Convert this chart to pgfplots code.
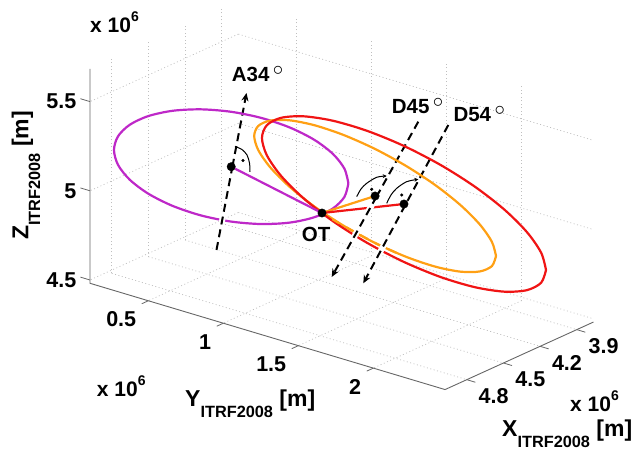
\documentclass[border=0pt]{standalone}
\usepackage{fontspec}
\setmainfont{Liberation Sans}
\usepackage{pgfplots}
\pgfplotsset{compat=1.18}
\usetikzlibrary{arrows.meta}
\definecolor{cmag}{RGB}{190,40,200}
\definecolor{corg}{RGB}{255,160,20}
\definecolor{cred}{RGB}{240,20,20}
\begin{document}
\begin{tikzpicture}
\begin{axis}[
  disabledatascaling,
  x={(-122.2pt,-55.6pt)}, y={(150pt,-44.9pt)}, z={(0pt,178.4pt)},
  xmin=3.764, xmax=4.978, ymin=0.111, ymax=2.478, zmin=4.4815, zmax=5.683,
  xtick={3.9,4.2,4.5,4.8}, xticklabels={3.9,4.2,4.5,4.8},
  ytick={0.5,1,1.5,2}, yticklabels={0.5,1,1.5,2},
  ztick={4.5,5,5.5}, zticklabels={4.5,5,5.5},
  grid=major,
  major grid style={gray!50, line width=0.7pt, dash pattern=on 1pt off 2.5pt},
  axis line style={draw=none},
  tick style={draw=none},
  ticklabel style={font=\bfseries\fontsize{21.5}{25}\selectfont, inner sep=0pt},
  xticklabel style={anchor=north west, xshift=11.7pt, yshift=-8.5pt},
  yticklabel style={anchor=north east, xshift=-12pt, yshift=-11pt},
  zticklabel style={anchor=east, xshift=-13.5pt},
  clip=false,
]
\coordinate (C) at (axis cs:4.978,0.111,4.4815);
\draw[black!60, line width=0.9pt] (axis cs:4.978,0.111,5.683) -- (axis cs:4.978,0.111,4.4815) -- (axis cs:4.978,2.478,4.4815) -- (axis cs:3.764,2.478,4.4815);
\draw[black!60, line width=0.8pt]
  (axis cs:4.978,0.111,4.5) -- (axis cs:4.978,0.047,4.5)
  (axis cs:4.978,0.111,5) -- (axis cs:4.978,0.047,5)
  (axis cs:4.978,0.111,5.5) -- (axis cs:4.978,0.047,5.5)
  (axis cs:4.978,0.5,4.4815) -- (axis cs:5.032,0.5,4.4815)
  (axis cs:4.978,1,4.4815) -- (axis cs:5.032,1,4.4815)
  (axis cs:4.978,1.5,4.4815) -- (axis cs:5.032,1.5,4.4815)
  (axis cs:4.978,2,4.4815) -- (axis cs:5.032,2,4.4815)
  (axis cs:3.9,2.478,4.4815) -- (axis cs:3.9,2.535,4.4815)
  (axis cs:4.2,2.478,4.4815) -- (axis cs:4.2,2.535,4.4815)
  (axis cs:4.5,2.478,4.4815) -- (axis cs:4.5,2.535,4.4815)
  (axis cs:4.8,2.478,4.4815) -- (axis cs:4.8,2.535,4.4815);
% upper (hidden) parts of the normals
\addplot3[black, line width=2pt, dash pattern=on 8pt off 5pt, -{Stealth[length=8pt,width=7pt]}] coordinates {(4.978,1.0603,5.3740) (4.978,1.1543,5.8108)};
\addplot3[black, line width=2pt, dash pattern=on 8pt off 5pt] coordinates {(4.978,2.2997,5.9382) (4.978,2.0210,5.4477)};
\addplot3[black, line width=2pt, dash pattern=on 8pt off 5pt] coordinates {(4.978,2.4997,5.9700) (4.978,2.2130,5.4494)};
% circles
\addplot3[cmag, line width=2.2pt, smooth] table {
4.978 1.8336 5.4750
4.978 1.8070 5.3919
4.978 1.7289 5.3074
4.978 1.6048 5.2273
4.978 1.4430 5.1570
4.978 1.2545 5.1014
4.978 1.0523 5.0643
4.978 0.8501 5.0481
4.978 0.6616 5.0540
4.978 0.4998 5.0815
4.978 0.3757 5.1289
4.978 0.2976 5.1928
4.978 0.2710 5.2690
4.978 0.2976 5.3521
4.978 0.3757 5.4366
4.978 0.4998 5.5167
4.978 0.6616 5.5870
4.978 0.8501 5.6426
4.978 1.0523 5.6797
4.978 1.2545 5.6959
4.978 1.4430 5.6900
4.978 1.6048 5.6625
4.978 1.7289 5.6151
4.978 1.8070 5.5512
4.978 1.8336 5.4750
};
\addplot3[corg, line width=2.2pt, smooth] table {
4.978 2.8177 5.3157
4.978 2.7902 5.2521
4.978 2.7097 5.2019
4.978 2.5816 5.1685
4.978 2.4147 5.1543
4.978 2.2203 5.1602
4.978 2.0117 5.1858
4.978 1.8031 5.2293
4.978 1.6087 5.2878
4.978 1.4418 5.3573
4.978 1.3137 5.4331
4.978 1.2332 5.5099
4.978 1.2057 5.5827
4.978 1.2332 5.6463
4.978 1.3137 5.6965
4.978 1.4418 5.7299
4.978 1.6087 5.7441
4.978 1.8031 5.7382
4.978 2.0117 5.7127
4.978 2.2203 5.6691
4.978 2.4147 5.6106
4.978 2.5816 5.5411
4.978 2.7097 5.4653
4.978 2.7902 5.3885
4.978 2.8177 5.3157
};
\addplot3[cred, line width=2.2pt, smooth] table {
4.978 3.1510 5.3212
4.978 3.1187 5.2416
4.978 3.0241 5.1763
4.978 2.8737 5.1299
4.978 2.6776 5.1055
4.978 2.4493 5.1048
4.978 2.2043 5.1278
4.978 1.9593 5.1730
4.978 1.7310 5.2372
4.978 1.5349 5.3161
4.978 1.3845 5.4044
4.978 1.2899 5.4960
4.978 1.2576 5.5846
4.978 1.2899 5.6643
4.978 1.3845 5.7295
4.978 1.5349 5.7759
4.978 1.7310 5.8003
4.978 1.9593 5.8010
4.978 2.2043 5.7780
4.978 2.4493 5.7328
4.978 2.6776 5.6686
4.978 2.8737 5.5897
4.978 3.0241 5.5014
4.978 3.1187 5.4098
4.978 3.1510 5.3212
};
\addplot3[corg, line width=2.2pt, smooth, dash pattern=on 8pt off 8pt] coordinates {(4.978,2.1516,5.1666) (4.978,2.0117,5.1858) (4.978,1.8031,5.2293) (4.978,1.6577,5.2648)};
% radii
\addplot3[cmag, line width=2.2pt] coordinates {(4.978,1.0523,5.3720) (4.978,1.6577,5.2648)};
\addplot3[corg, line width=2.2pt] coordinates {(4.978,2.0117,5.4492) (4.978,1.6577,5.2648)};
\addplot3[cred, line width=2.2pt] coordinates {(4.978,2.2043,5.4529) (4.978,1.6577,5.2648)};
% lower (front) parts of the normals
\addplot3[white, line width=6pt] coordinates {(4.978,0.9543,4.8804) (4.978,1.0603,5.3740)};
\addplot3[black, line width=2pt, dash pattern=on 8pt off 5pt] coordinates {(4.978,0.9543,4.8804) (4.978,1.0603,5.3740)};
\addplot3[white, line width=6pt] coordinates {(4.978,2.0210,5.4477) (4.978,1.7350,4.9450)};
\addplot3[black, line width=2pt, dash pattern=on 8pt off 5pt, -{Stealth[length=8pt,width=7pt]}] coordinates {(4.978,2.0210,5.4477) (4.978,1.7223,4.9224)};
\addplot3[white, line width=6pt] coordinates {(4.978,2.2130,5.4494) (4.978,1.9460,4.9630)};
\addplot3[black, line width=2pt, dash pattern=on 8pt off 5pt, -{Stealth[length=8pt,width=7pt]}] coordinates {(4.978,2.2130,5.4494) (4.978,1.9330,4.9401)};
% right-angle arcs
\addplot3[black, line width=1pt, smooth] coordinates {(4.978,1.0777,5.4916) (4.978,1.1243,5.4865) (4.978,1.1577,5.4641) (4.978,1.1743,5.4235) (4.978,1.1777,5.3739)};
\addplot3[black, line width=1pt, smooth, -{Stealth[length=4pt,width=4pt]}] coordinates {(4.978,1.8890,5.4144) (4.978,1.9177,5.4648) (4.978,1.9557,5.5063) (4.978,2.0223,5.5567) (4.978,2.0890,5.5808)};
\addplot3[black, line width=1pt, smooth, -{Stealth[length=4pt,width=4pt]}] coordinates {(4.978,2.0890,5.4278) (4.978,2.1177,5.4815) (4.978,2.1557,5.5286) (4.978,2.2223,5.5824) (4.978,2.2997,5.6153)};
\addplot3[only marks, mark=*, mark size=1.4pt, black] coordinates {(4.978,1.1310,5.4266) (4.978,1.9890,5.4811) (4.978,2.1890,5.4995)};
% centres and OT
\addplot3[only marks, mark=*, mark size=4.2pt, black] coordinates {(4.978,1.0523,5.3720) (4.978,2.0117,5.4492) (4.978,2.2043,5.4529) (4.978,1.6577,5.2648)};
\end{axis}
\begin{scope}[shift={(C)}, x=1pt, y=-1pt, shift={(-90,-283.3)}]
\tikzset{lab/.style={anchor=base west, inner sep=0pt, font=\bfseries\fontsize{23}{27}\selectfont}}
\node[lab] at (185,406) {Y\raisebox{-11.7pt}{\fontsize{16.3}{19}\selectfont ITRF2008} [m]};
\node[lab] at (502,436) {X\raisebox{-11.7pt}{\fontsize{16.3}{19}\selectfont ITRF2008} [m]};
\node[lab, rotate=90] at (28.5,240) {Z\raisebox{-11.7pt}{\fontsize{16.3}{19}\selectfont ITRF2008} [m]};
\tikzset{sc/.style={anchor=base west, inner sep=0pt, font=\bfseries\fontsize{21}{25}\selectfont}}
\node[sc] at (90,33) {x 10\raisebox{11pt}{\fontsize{14}{16}\selectfont 6}};
\node[sc] at (96.7,396) {x 10\raisebox{11pt}{\fontsize{14}{16}\selectfont 6}};
\node[sc] at (570,411) {x 10\raisebox{11pt}{\fontsize{14}{16}\selectfont 6}};
\tikzset{an/.style={anchor=base west, inner sep=0pt, font=\bfseries\fontsize{20.5}{24}\selectfont}}
\node[an] at (231.7,81.7) {A34\,\raisebox{6pt}{$\circ$}};
\node[an] at (391.7,113.3) {D45\,\raisebox{6pt}{$\circ$}};
\node[an] at (453.3,121.7) {D54\,\raisebox{6pt}{$\circ$}};
\node[an] at (301.7,241.7) {OT};
\pgfresetboundingbox
\path[use as bounding box] (0,0) rectangle (639,452);
\end{scope}
\end{tikzpicture}
\end{document}
